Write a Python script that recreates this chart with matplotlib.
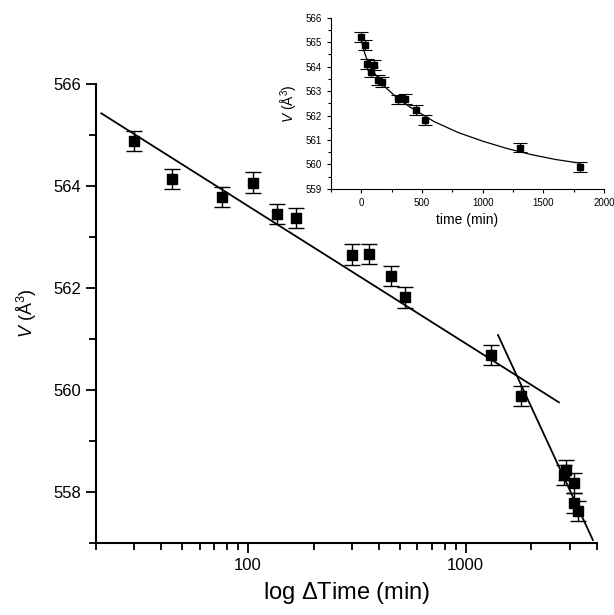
import numpy as np
import matplotlib.pyplot as plt
from matplotlib.ticker import MultipleLocator, FixedLocator, NullFormatter

plt.rcParams['font.family'] = ['Liberation Sans', 'DejaVu Sans']
plt.rcParams['mathtext.fontset'] = 'custom'
plt.rcParams['mathtext.rm'] = 'Liberation Sans'
plt.rcParams['mathtext.it'] = 'Liberation Sans:italic'

# main plot: volume vs log(delta time)
dt    = [30, 45, 76, 106, 136, 167, 299, 359, 453, 528, 1310, 1800, 2830, 2880, 3130, 3140, 3270]
vol   = [564.89, 564.14, 563.79, 564.07, 563.46, 563.38, 562.66, 562.67, 562.24, 561.82,
         560.69, 559.89, 558.33, 558.43, 558.18, 557.79, 557.63]
vol_err = [0.2, 0.2, 0.2, 0.2, 0.2, 0.2, 0.2, 0.2, 0.2, 0.2, 0.2, 0.2, 0.2, 0.2, 0.2, 0.2, 0.2]

fit1_t = [21.2, 2680]
fit1_v = [565.43, 559.76]
fit2_t = [1407, 3836]
fit2_v = [561.08, 557.06]

# inset: volume vs time
t_in   = [0, 33, 49, 76, 106, 136, 167, 299, 359, 453, 528, 1310, 1800]
v_in   = [565.22, 564.88, 564.12, 563.79, 564.07, 563.46, 563.38, 562.66, 562.67, 562.24,
          561.82, 560.69, 559.89]
curve_t = [0, 25, 50, 100, 150, 200, 300, 400, 500, 600, 800, 1000, 1200, 1400, 1600, 1800]
curve_v = [565.1, 564.6, 564.25, 563.8, 563.45, 563.15, 562.7, 562.35, 562.05, 561.75,
           561.3, 560.95, 560.65, 560.4, 560.2, 560.05]

fig = plt.figure(figsize=(6.14, 6.15), dpi=100)
ax = fig.add_axes([0.156, 0.117, 0.816, 0.746])

ax.errorbar(dt, vol, yerr=vol_err, fmt='s', color='black', ms=7.5, capsize=6,
            elinewidth=1.0, capthick=1.0)
ax.plot(fit1_t, fit1_v, color='black', lw=1.3)
ax.plot(fit2_t, fit2_v, color='black', lw=1.3)

ax.set_xscale('log')
ax.set_xlim(20, 4000)
ax.set_ylim(557, 566)
ax.yaxis.set_major_locator(MultipleLocator(2))
ax.yaxis.set_minor_locator(MultipleLocator(1))
ax.xaxis.set_major_locator(FixedLocator([100, 1000]))
ax.xaxis.set_minor_locator(FixedLocator([20, 30, 40, 50, 60, 70, 80, 90,
                                         200, 300, 400, 500, 600, 700, 800, 900,
                                         2000, 3000, 4000]))
ax.xaxis.set_minor_formatter(NullFormatter())
ax.set_xticklabels(['100', '1000'])
for s in ['top', 'right']:
    ax.spines[s].set_visible(False)
for s in ['left', 'bottom']:
    ax.spines[s].set_linewidth(1.5)
ax.tick_params(which='major', direction='out', length=7, width=1.3, labelsize=12)
ax.tick_params(which='minor', direction='out', length=5, width=1.3)
ax.set_xlabel('log $\\Delta$Time (min)', fontsize=17, labelpad=5)
ax.set_ylabel('$V$ (Å$^{3}$)', fontsize=13, labelpad=10)

# inset
axi = fig.add_axes([0.539, 0.693, 0.445, 0.278])
axi.errorbar(t_in, v_in, yerr=0.2, fmt='s', color='black', ms=4, capsize=5,
             elinewidth=0.8, capthick=0.8)
axi.plot(curve_t, curve_v, color='black', lw=0.9)
axi.set_xlim(-250, 2000)
axi.set_ylim(559, 566)
axi.xaxis.set_major_locator(MultipleLocator(500))
axi.xaxis.set_minor_locator(MultipleLocator(250))
axi.yaxis.set_major_locator(MultipleLocator(1))
axi.yaxis.set_minor_locator(MultipleLocator(0.5))
for s in ['top', 'right']:
    axi.spines[s].set_visible(False)
axi.tick_params(which='major', direction='out', length=3, width=0.8, labelsize=7)
axi.tick_params(which='minor', direction='out', length=2, width=0.8)
axi.set_xlabel('time (min)', fontsize=10)
axi.set_ylabel('$V$ (Å$^{3}$)', fontsize=10)

plt.savefig('out.png', dpi=100)
